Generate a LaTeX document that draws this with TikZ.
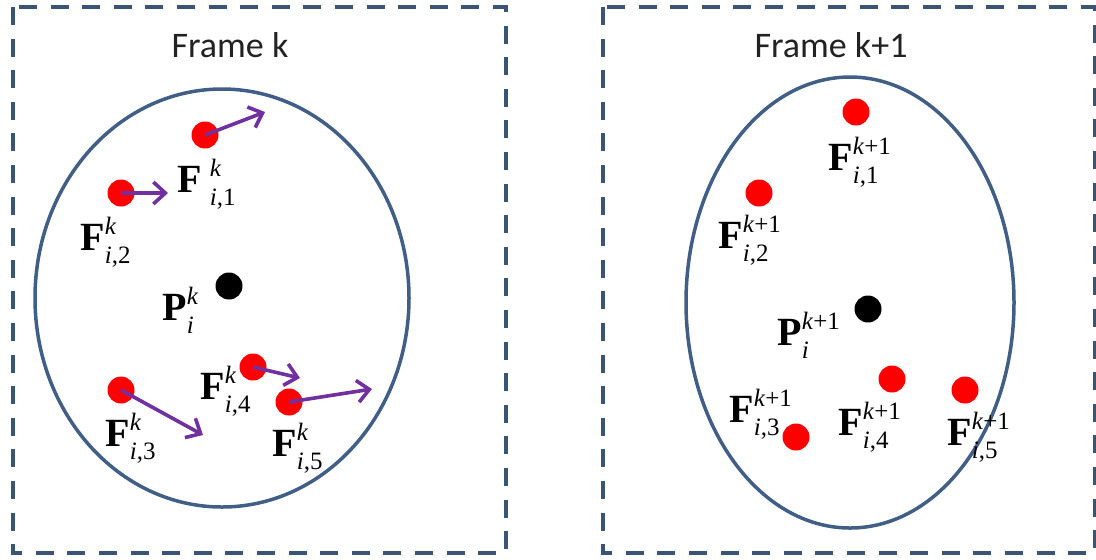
\documentclass[tikz,border=0pt]{standalone}
\usepackage{fontspec}
\setmainfont{Carlito}
\newfontfamily\tnr{Liberation Serif}
\usetikzlibrary{arrows.meta}

\definecolor{boxblue}{RGB}{58,84,118}
\definecolor{ringblue}{RGB}{64,94,134}
\definecolor{movepurple}{RGB}{112,48,160}
\definecolor{titlegray}{RGB}{34,34,34}

% feature label: bold base letter with stacked italic scripts
\newcommand{\lblsmall}{\fontsize{12.5}{14}\selectfont}
\newcommand{\flab}[4][0pt]{%
  \textbf{#2}\hspace{#1}%
  \rlap{\raisebox{8pt}{\lblsmall #3}}%
  \raisebox{-6.5pt}{\lblsmall #4}}

\tikzset{
  framebox/.style={draw=boxblue, line width=2.25pt, dash pattern=on 9pt off 6.8pt},
  ring/.style={draw=ringblue, line width=1.75pt},
  feat/.style={circle, fill=red, minimum size=13.5pt, inner sep=0pt},
  centre/.style={circle, fill=black, minimum size=13.5pt, inner sep=0pt},
  move/.style={draw=movepurple, line width=1.8pt,
    -{Straight Barb[length=6pt, width=11pt, line width=1.8pt]}},
  lab/.style={anchor=base west, inner sep=0pt,
    font=\tnr\fontsize{20}{24}\selectfont},
  title/.style={font=\fontsize{18}{21}\selectfont, text=titlegray},
}

\begin{document}
\begin{tikzpicture}[x=0.5pt, y=-0.5pt]
\useasboundingbox (0,0) rectangle (1096,559);

% ---------- frame k ----------
\draw[framebox] (13,7) rectangle (506,553);
\node[title] (tk) at (230,45) {Frame k};
\draw[ring] (222,298) ellipse [x radius=93.5pt, y radius=104.5pt];

\node[feat]   (a1) at (205,135) {};
\node[feat]   (a2) at (121,193) {};
\node[centre] (ap) at (229,286) {};
\node[feat]   (a3) at (121,390) {};
\node[feat]   (a4) at (253,367) {};
\node[feat]   (a5) at (289,402) {};

\coordinate (m1) at (265,112);
\coordinate (m2) at (168,193);
\coordinate (m3) at (203,435);
\coordinate (m4) at (300,378);
\coordinate (m5) at (372,389);

\draw[move] (a1.center) -- (m1);
\draw[move] (a2.center) -- (m2);
\draw[move] (a3.center) -- (m3);
\draw[move] (a4.center) -- (m4);
\draw[move] (a5.center) -- (m5);

\node[lab] (la1) at (177,192) {\flab[4pt]{F}{\textit{k}}{\textit{i},1}};
\node[lab] (la2) at (80,250)  {\flab{F}{\textit{k}}{\textit{i},2}};
\node[lab] (lap) at (162,320) {\flab{P}{\textit{k}}{\textit{i}}};
\node[lab] (la3) at (105,446) {\flab{F}{\textit{k}}{\textit{i},3}};
\node[lab] (la4) at (200,399) {\flab{F}{\textit{k}}{\textit{i},4}};
\node[lab] (la5) at (272,456) {\flab{F}{\textit{k}}{\textit{i},5}};

% ---------- frame k+1 ----------
\draw[framebox] (603,7) rectangle (1095,553);
\node[title] (tk1) at (831,45) {Frame k+1};
\draw[ring] (850,302.5) ellipse [x radius=82pt, y radius=112.75pt];

\node[feat]   (b1) at (856,112) {};
\node[feat]   (b2) at (759,193) {};
\node[centre] (bp) at (868,309) {};
\node[feat]   (b3) at (796,437) {};
\node[feat]   (b4) at (892,379) {};
\node[feat]   (b5) at (965,390) {};

\node[lab] (lb1) at (828,170) {\flab{F}{\textit{k}+1}{\textit{i},1}};
\node[lab] (lb2) at (718,248) {\flab{F}{\textit{k}+1}{\textit{i},2}};
\node[lab] (lbp) at (777,345) {\flab{P}{\textit{k}+1}{\textit{i}}};
\node[lab] (lb3) at (729,422) {\flab{F}{\textit{k}+1}{\textit{i},3}};
\node[lab] (lb4) at (838,435) {\flab{F}{\textit{k}+1}{\textit{i},4}};
\node[lab] (lb5) at (947,445) {\flab{F}{\textit{k}+1}{\textit{i},5}};
\end{tikzpicture}
\end{document}
